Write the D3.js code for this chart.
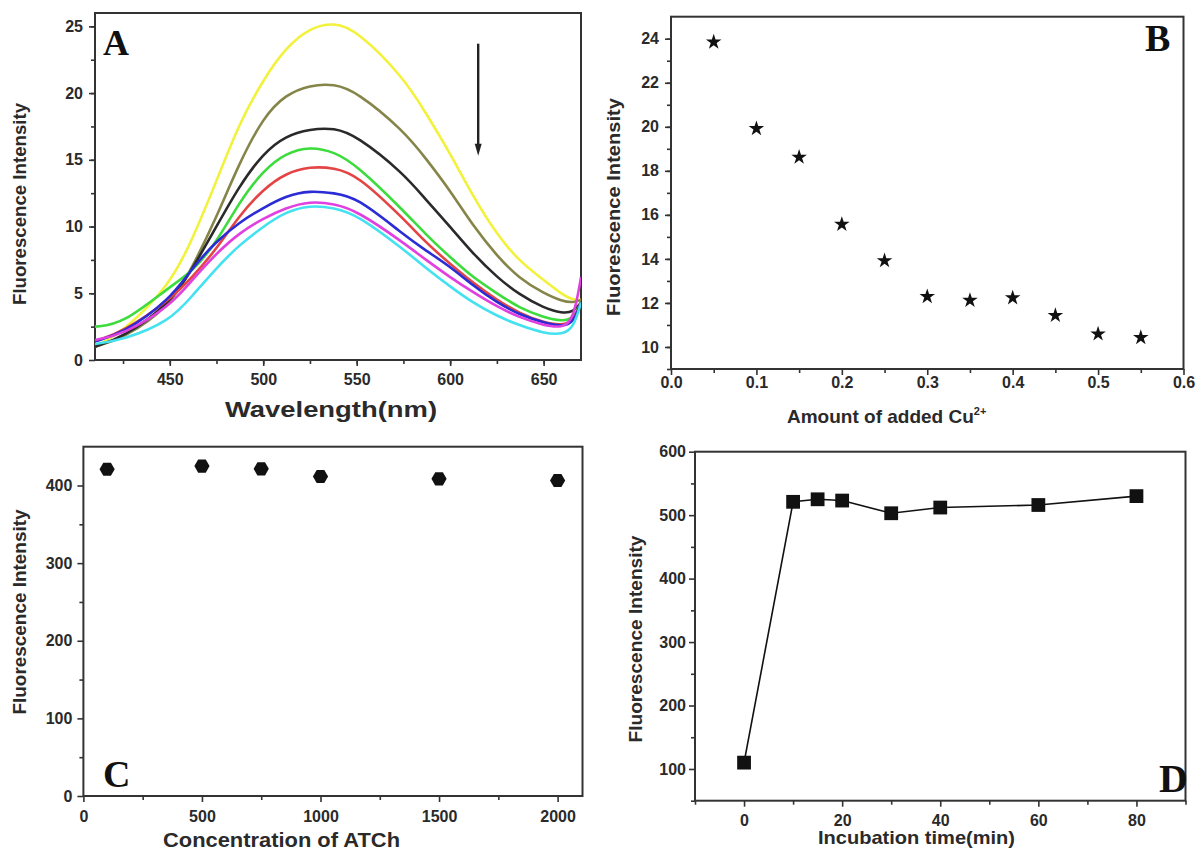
<!DOCTYPE html>
<html><head><meta charset="utf-8">
<script src="https://cdn.jsdelivr.net/npm/d3@7"></script>
<style>
body{margin:0;background:#fff}
svg{display:block}
text{font-family:"Liberation Sans",Arial,sans-serif;font-weight:bold;fill:#2a2a2a}
.lbl{font-family:"Liberation Serif","Times New Roman",serif;fill:#111}
</style>
</head><body>
<svg id="chart" width="1200" height="854"></svg>
<script>
// ---- Panel A: emission spectra ----
const wavelengths = [410,425,450,462,475,487,500,512,525,538,550,575,587,600,612,625,637,650,660,666,670];
const spectrumYellow  = [1.0,2.1,5.6,9.0,13.4,17.7,21.0,23.4,24.9,25.3,24.7,21.2,18.5,15.5,12.3,9.4,7.4,6.0,4.9,4.5,4.5];
const spectrumOlive   = [1.0,1.6,4.0,6.9,10.7,14.7,18.2,19.9,20.6,20.7,20.1,17.2,15.1,12.7,10.1,7.8,6.1,5.0,4.4,4.3,4.5];
const spectrumBlack   = [1.0,1.7,4.2,6.8,10.0,13.0,15.5,16.8,17.3,17.4,16.8,14.0,12.0,10.0,8.0,6.2,4.9,3.9,3.5,3.6,4.3];
const spectrumGreen   = [2.5,2.7,5.5,6.6,8.8,11.8,14.2,15.5,16.0,15.6,14.6,11.2,9.4,7.7,6.2,5.0,3.9,3.2,2.9,3.1,4.3];
const spectrumRed     = [1.4,2.1,4.5,6.2,8.3,10.8,12.8,14.0,14.5,14.4,13.9,10.6,8.8,7.2,5.8,4.5,3.5,2.8,2.6,2.9,4.3];
const spectrumBlue    = [1.4,2.0,4.5,6.9,8.9,10.3,11.4,12.3,12.7,12.5,12.2,9.4,8.2,7.0,5.6,4.3,3.4,2.8,2.5,2.8,4.3];
const spectrumMagenta = [1.5,1.9,4.0,6.0,8.0,9.5,10.6,11.4,11.9,11.7,11.2,8.8,7.5,6.2,5.1,4.0,3.2,2.6,2.4,3.0,6.2];
const spectrumCyan    = [1.2,1.5,2.9,4.8,6.9,8.6,10.0,11.1,11.6,11.4,10.9,8.3,6.9,5.5,4.3,3.3,2.6,2.0,1.9,2.4,4.3];
const spectrumColors  = ["#f2f23c","#85854a","#2a2a2a","#3ddc3d","#e44444","#2c2cd6","#e040e0","#44e2f0"];
const spectra = [spectrumYellow,spectrumOlive,spectrumBlack,spectrumGreen,spectrumRed,spectrumBlue,spectrumMagenta,spectrumCyan];
const aXTicks = [450,500,550,600,650];
const aYTicks = [0,5,10,15,20,25];

// ---- Panel B: Cu2+ titration ----
const cuAmounts   = [0.05,0.10,0.15,0.20,0.25,0.30,0.35,0.40,0.45,0.50,0.55];
const cuIntensity = [23.85,19.92,18.62,15.57,13.92,12.29,12.12,12.23,11.43,10.59,10.43];
const bXTicks = [0,0.1,0.2,0.3,0.4,0.5,0.6];
const bYTicks = [10,12,14,16,18,20,22,24];

// ---- Panel C: ATCh concentration ----
const atchConc      = [100,500,750,1000,1500,2000];
const atchIntensity = [421,425,421.5,411.6,408.6,406.4];
const cXTicks = [0,500,1000,1500,2000];
const cYTicks = [0,100,200,300,400];

// ---- Panel D: incubation time ----
const incTime      = [0,10,15,20,30,40,60,80];
const incIntensity = [110,521,525,523,503,512,516,530];
const dXTicks = [0,20,40,60,80];
const dYTicks = [100,200,300,400,500,600];

const svg = d3.select("#chart");

function panel(c){
  const g = svg.append("g");
  const x = d3.scaleLinear().domain(c.xd).range([c.l, c.r]);
  const y = d3.scaleLinear().domain(c.yd).range([c.b, c.t]);
  g.append("g").attr("transform",`translate(0,${c.b})`)
    .call(d3.axisBottom(x).tickValues(c.xm).tickSize(4).tickFormat(""))
    .call(a=>a.select(".domain").remove());
  g.append("g").attr("transform",`translate(${c.l},0)`)
    .call(d3.axisLeft(y).tickValues(c.ym).tickSize(4).tickFormat(""))
    .call(a=>a.select(".domain").remove());
  const xa = g.append("g").attr("transform",`translate(0,${c.b})`)
    .call(d3.axisBottom(x).tickValues(c.xt).tickSize(6).tickPadding(c.xpad).tickFormat(c.xf||d3.format("d")));
  xa.select(".domain").remove();
  xa.selectAll("text").attr("font-size",16).attr("fill","#2a2a2a").attr("font-weight","bold");
  const ya = g.append("g").attr("transform",`translate(${c.l},0)`)
    .call(d3.axisLeft(y).tickValues(c.yt).tickSize(6).tickPadding(c.ypad).tickFormat(c.yf||d3.format("d")));
  ya.select(".domain").remove();
  ya.selectAll("text").attr("font-size",16).attr("fill","#2a2a2a").attr("font-weight","bold");
  g.selectAll(".tick line").attr("stroke","#333").attr("stroke-width",1.6);
  g.append("rect").attr("x",c.l).attr("y",c.t).attr("width",c.r-c.l).attr("height",c.b-c.t)
    .attr("fill","none").attr("stroke","#333").attr("stroke-width",2);
  g.append("text").attr("transform",`translate(${c.ytx},${c.yty}) rotate(-90)`)
    .attr("text-anchor","middle").attr("dominant-baseline","central")
    .attr("font-size",18).attr("textLength",c.ytl).attr("lengthAdjust","spacingAndGlyphs")
    .text("Fluorescence Intensity");
  return {g,x,y};
}

// Panel A
{
  const p = panel({l:95,r:581,t:13,b:360,xd:[410,670],yd:[0,26],
    xt:aXTicks,xm:d3.range(425,670,25),yt:aYTicks,ym:d3.range(2.5,26,2.5),
    xpad:8,ypad:6,ytx:20,yty:204,ytl:202});
  const line = d3.line().x((d,i)=>p.x(wavelengths[i])).y(d=>p.y(d)).curve(d3.curveBasis);
  const clip = p.g.append("clipPath").attr("id","clipA");
  clip.append("rect").attr("x",95).attr("y",13).attr("width",486).attr("height",347);
  p.g.append("g").attr("clip-path","url(#clipA)").selectAll("path").data(spectra).join("path")
    .attr("d",d=>line(d)).attr("fill","none")
    .attr("stroke",(d,i)=>spectrumColors[i]).attr("stroke-width",2.6).attr("stroke-linejoin","round");
  const ax = p.x(615);
  p.g.append("line").attr("x1",ax).attr("x2",ax).attr("y1",p.y(23.7)).attr("y2",p.y(15.9))
    .attr("stroke","#222").attr("stroke-width",2.4);
  p.g.append("path").attr("d",`M${ax-3.5},${p.y(16.2)}L${ax+3.5},${p.y(16.2)}L${ax},${p.y(15.3)}Z`).attr("fill","#222");
  p.g.append("text").attr("class","lbl").attr("x",103).attr("y",55).attr("font-size",36).text("A");
  p.g.append("text").attr("x",331).attr("y",417).attr("text-anchor","middle").attr("font-size",22)
    .attr("textLength",212).attr("lengthAdjust","spacingAndGlyphs").text("Wavelength(nm)");
}

// Panel B
{
  const p = panel({l:671,r:1183.5,t:16.7,b:369,xd:[0,0.6],yd:[9,25],
    xt:bXTicks,xm:d3.range(0.05,0.6,0.1),yt:bYTicks,ym:d3.range(9,25,1),
    xpad:2,ypad:6,xf:d3.format(".1f"),ytx:614,yty:207,ytl:218});
  p.g.selectAll("path.star").data(cuAmounts).join("path").attr("class","star")
    .attr("transform",(d,i)=>`translate(${p.x(d)},${p.y(cuIntensity[i])})`)
    .attr("d",d3.symbol(d3.symbolStar,75)).attr("fill","#111");
  p.g.append("text").attr("class","lbl").attr("x",1145).attr("y",51).attr("font-size",38).text("B");
  const t = p.g.append("text").attr("x",787).attr("y",423).attr("font-size",19);
  t.append("tspan").text("Amount of added Cu");
  t.append("tspan").attr("dy",-8).attr("font-size",11).text("2+");
}

// Panel C
{
  const p = panel({l:83.4,r:582.5,t:446.7,b:796,xd:[0,2105],yd:[0,450],
    xt:cXTicks,xm:[250,750,1250,1750],yt:cYTicks,ym:[50,150,250,350],
    xpad:9,ypad:5,ytx:20,yty:612,ytl:205});
  const hex = {draw(ctx,size){const r=Math.sqrt(size/2.598);for(let k=0;k<6;k++){const a=Math.PI/3*k;const px=r*Math.cos(a),py=r*Math.sin(a);k?ctx.lineTo(px,py):ctx.moveTo(px,py);}ctx.closePath();}};
  p.g.selectAll("path.hex").data(atchConc).join("path").attr("class","hex")
    .attr("transform",(d,i)=>`translate(${p.x(d)},${p.y(atchIntensity[i])})`)
    .attr("d",d3.symbol(hex,150)).attr("fill","#111");
  p.g.append("text").attr("class","lbl").attr("x",103).attr("y",787).attr("font-size",38).text("C");
  p.g.append("text").attr("x",281.5).attr("y",847).attr("text-anchor","middle").attr("font-size",20)
    .attr("textLength",237).attr("lengthAdjust","spacingAndGlyphs").text("Concentration of ATCh");
}

// Panel D
{
  const p = panel({l:695,r:1185.5,t:451.7,b:800.7,xd:[-10,90],yd:[50,600],
    xt:dXTicks,xm:[-10,10,30,50,70,90],yt:dYTicks,ym:[50,150,250,350,450,550],
    xpad:8,ypad:3,ytx:636,yty:639,ytl:207});
  p.g.append("path").datum(incTime)
    .attr("d",d3.line().x(d=>p.x(d)).y((d,i)=>p.y(incIntensity[i])))
    .attr("fill","none").attr("stroke","#111").attr("stroke-width",1.6);
  p.g.selectAll("path.sq").data(incTime).join("path").attr("class","sq")
    .attr("transform",(d,i)=>`translate(${p.x(d)},${p.y(incIntensity[i])})`)
    .attr("d",d3.symbol(d3.symbolSquare,190)).attr("fill","#111");
  p.g.append("text").attr("class","lbl").attr("x",1159).attr("y",792).attr("font-size",40).text("D");
  p.g.append("text").attr("x",916.5).attr("y",844).attr("text-anchor","middle").attr("font-size",19)
    .attr("textLength",197).attr("lengthAdjust","spacingAndGlyphs").text("Incubation time(min)");
}
</script>
</body></html>
